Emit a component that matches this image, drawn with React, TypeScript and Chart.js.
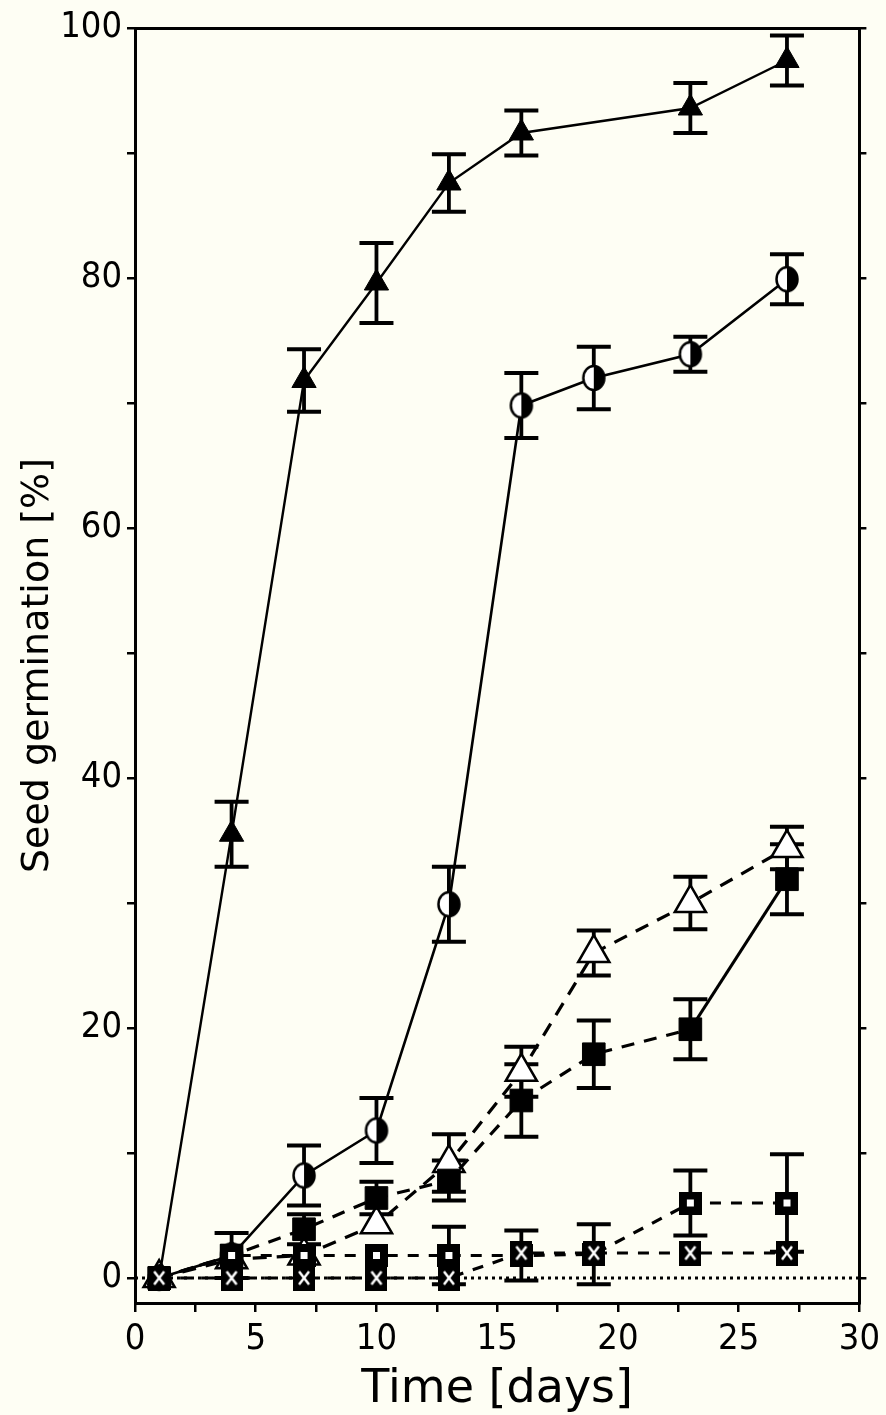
import React, { useEffect, useRef } from 'react';
import { Chart, registerables } from 'chart.js';

Chart.register(...registerables);

// ---- Data ----
const days = [1, 4, 7, 10, 13, 16, 19, 23, 27];

const filledTriangle = [0, 35.5, 71.8, 79.6, 87.6, 91.6, null, 93.6, 97.4];
const filledTriangleErr = [0, 2.6, 2.5, 3.2, 2.3, 1.8, null, 2.0, 2.0];

const halfCircle = [0, 1.8, 8.2, 11.8, 29.9, 69.8, 72.0, 73.9, 79.9];
const halfCircleErr = [0, 1.8, 2.4, 2.6, 3.0, 2.6, 2.5, 1.4, 2.0];

const openTriangle = [0, 1.5, 1.8, 4.3, 9.2, 16.5, 26.0, 30.0, 34.4];
const openTriangleErr = [0, 0, 0, 0, 2.3, 2.0, 1.8, 2.1, 1.7];

const filledSquare = [0, 1.8, 3.9, 6.4, 7.8, 14.2, 17.9, 19.9, 31.9];
const filledSquareErr = [0, 0, 1.2, 1.3, 1.6, 2.9, 2.7, 2.4, 2.8];

const openSquare = [0, 1.8, 1.8, 1.8, 1.8, 1.8, 1.9, 6.0, 6.0];
const openSquareErr = [0, 0, 0, 0, 2.3, 2.0, 2.4, 2.6, 3.9];

const crossedSquare = [0, 0, 0, 0, 0, 2.0, 2.0, 2.0, 2.0];

const yLabelValues = [0, 20, 40, 60, 80, 100];
const xLabelValues = [0, 5, 10, 15, 20, 25, 30];
const zeroLine = [0, 30];

const BG = '#fefef4';
const TICK_FONT = '"DejaVu Sans Condensed", "DejaVu Sans", sans-serif';
const TITLE_FONT = '"DejaVu Sans", sans-serif';

function points(vals: (number | null)[], errs: (number | null)[] | null) {
  const out: any[] = [];
  vals.forEach((v, i) => {
    if (v === null || v === undefined) return;
    out.push({ x: days[i], y: v, e: errs ? errs[i] : 0 });
  });
  return out;
}

function makeCanvas(w: number, h: number, draw: (c: CanvasRenderingContext2D) => void) {
  const c = document.createElement('canvas');
  c.width = w;
  c.height = h;
  const ctx = c.getContext('2d')!;
  draw(ctx);
  return c;
}

function halfCircleMarker() {
  return makeCanvas(26, 28, (ctx) => {
    const cx = 13, cy = 14, r = 10.5;
    ctx.beginPath();
    ctx.ellipse(cx, cy, r, r + 1.5, 0, 0, Math.PI * 2);
    ctx.fillStyle = '#fff';
    ctx.fill();
    ctx.beginPath();
    ctx.ellipse(cx, cy, r, r + 1.5, 0, -Math.PI / 2, Math.PI / 2);
    ctx.closePath();
    ctx.fillStyle = '#000';
    ctx.fill();
    ctx.beginPath();
    ctx.ellipse(cx, cy, r, r + 1.5, 0, 0, Math.PI * 2);
    ctx.lineWidth = 2.5;
    ctx.strokeStyle = '#000';
    ctx.stroke();
  });
}

function openSquareMarker() {
  return makeCanvas(23, 23, (ctx) => {
    ctx.fillStyle = '#000';
    ctx.fillRect(0, 0, 23, 23);
    ctx.fillStyle = '#fff';
    ctx.fillRect(8, 8, 7, 7);
  });
}

function crossedSquareMarker() {
  return makeCanvas(22, 25, (ctx) => {
    ctx.fillStyle = '#000';
    ctx.fillRect(0, 0, 22, 25);
    ctx.strokeStyle = '#fff';
    ctx.lineWidth = 2.5;
    ctx.beginPath();
    ctx.moveTo(6, 6);
    ctx.lineTo(16, 19);
    ctx.moveTo(16, 6);
    ctx.lineTo(6, 19);
    ctx.stroke();
  });
}

const bgPlugin = {
  id: 'bg',
  beforeDraw(chart: any) {
    const { ctx, width, height } = chart;
    ctx.save();
    ctx.fillStyle = BG;
    ctx.fillRect(0, 0, width, height);
    ctx.restore();
  },
};

const errorBarPlugin = {
  id: 'errorBars',
  beforeDatasetsDraw(chart: any) {
    const { ctx } = chart;
    const xs = chart.scales.x;
    const ys = chart.scales.y;
    ctx.save();
    ctx.strokeStyle = '#000';
    ctx.lineWidth = 3.8;
    ctx.lineCap = 'butt';
    chart.data.datasets.forEach((ds: any) => {
      ds.data.forEach((p: any) => {
        if (!p.e) return;
        const px = xs.getPixelForValue(p.x);
        const top = ys.getPixelForValue(p.y + p.e);
        const bot = ys.getPixelForValue(p.y - p.e);
        ctx.beginPath();
        ctx.moveTo(px, top);
        ctx.lineTo(px, bot);
        ctx.moveTo(px - 17, top);
        ctx.lineTo(px + 17, top);
        ctx.moveTo(px - 17, bot);
        ctx.lineTo(px + 17, bot);
        ctx.stroke();
      });
    });
    ctx.restore();
  },
};

export default function App() {
  const ref = useRef<HTMLCanvasElement | null>(null);

  useEffect(() => {
    document.body.style.margin = '0';
    document.body.style.background = BG;
    document.body.style.overflow = 'hidden';
    const canvas = ref.current!;

    const chart = new Chart(canvas, {
      type: 'line',
      data: {
        datasets: [
          {
            label: 'filledTriangle',
            order: 5,
            data: points(filledTriangle, filledTriangleErr),
            borderColor: '#000',
            borderWidth: 2.4,
            pointStyle: 'triangle',
            pointRadius: 14,
            pointBackgroundColor: '#000',
            pointBorderColor: '#000',
            pointBorderWidth: 1,
          },
          {
            label: 'halfCircle',
            order: 4,
            data: points(halfCircle, halfCircleErr),
            borderColor: '#000',
            borderWidth: 2.6,
            pointStyle: halfCircleMarker(),
          },
          {
            label: 'openTriangle',
            order: 6,
            data: points(openTriangle, openTriangleErr),
            borderColor: '#000',
            borderWidth: 3.2,
            borderDash: [14, 10],
            pointStyle: 'triangle',
            pointRadius: 18,
            pointBackgroundColor: '#fff',
            pointBorderColor: '#000',
            pointBorderWidth: 2.5,
          },
          {
            label: 'filledSquare',
            order: 3,
            data: points(filledSquare, filledSquareErr),
            borderColor: '#000',
            borderWidth: 3.2,
            borderDash: [13, 10],
            segment: {
              borderDash: (c: any) => (c.p0DataIndex === 7 ? [] : [13, 10]),
            },
            pointStyle: 'rect',
            pointRadius: 16,
            pointBackgroundColor: '#000',
            pointBorderColor: '#000',
            pointBorderWidth: 1,
          },
          {
            label: 'openSquare',
            order: 2,
            data: points(openSquare, openSquareErr),
            borderColor: '#000',
            borderWidth: 3.2,
            borderDash: [11, 10],
            pointStyle: openSquareMarker(),
          },
          {
            label: 'crossedSquare',
            order: 1,
            data: points(crossedSquare, null),
            borderColor: '#000',
            borderWidth: 3.2,
            borderDash: [11, 10],
            pointStyle: crossedSquareMarker(),
          },
          {
            label: 'zero',
            order: 7,
            data: zeroLine.map((x) => ({ x, y: 0, e: 0 })),
            borderColor: '#000',
            borderWidth: 3,
            borderDash: [3, 4],
            pointRadius: 0,
          },
        ],
      },
      options: {
        responsive: false,
        animation: false,
        events: [],
        layout: { padding: 0 },
        plugins: {
          legend: { display: false },
          tooltip: { enabled: false },
        },
        elements: {
          line: { tension: 0 },
        },
        datasets: {
          line: { clip: false as any, spanGaps: true },
        },
        scales: {
          x: {
            type: 'linear',
            position: 'bottom',
            min: 0,
            max: 30,
            ticks: {
              stepSize: 2.5,
              autoSkip: false,
              maxRotation: 0,
              color: '#000',
              padding: 6,
              font: { family: TICK_FONT, size: 36 },
              callback: (v: any) => (xLabelValues.includes(Number(v)) ? String(v) : ''),
            },
            grid: {
              drawOnChartArea: false,
              drawTicks: true,
              tickLength: 9,
              color: '#000',
              lineWidth: 2.5,
            },
            border: { display: true, color: '#000', width: 3 },
            title: {
              display: true,
              text: 'Time [days]',
              color: '#000',
              font: { family: TITLE_FONT, size: 46, lineHeight: 1.1 },
              padding: { top: 0, bottom: 0 },
            },
            afterFit: (s: any) => {
              s.height = 112;
            },
          },
          x2: {
            type: 'linear',
            position: 'top',
            min: 0,
            max: 30,
            ticks: { display: false },
            grid: { display: false },
            border: { display: true, color: '#000', width: 3 },
            afterFit: (s: any) => {
              s.height = 28;
            },
          },
          y: {
            type: 'linear',
            position: 'left',
            min: -2,
            max: 100,
            ticks: {
              stepSize: 10,
              includeBounds: false,
              autoSkip: false,
              color: '#000',
              padding: 5,
              font: { family: TICK_FONT, size: 36 },
              callback: (v: any) => (yLabelValues.includes(Number(v)) ? String(v) : ''),
            },
            grid: {
              drawOnChartArea: false,
              drawTicks: true,
              tickLength: 8,
              color: '#000',
              lineWidth: 2.5,
            },
            border: { display: true, color: '#000', width: 3 },
            title: {
              display: true,
              text: 'Seed germination [%]',
              color: '#000',
              font: { family: TITLE_FONT, size: 38 },
              padding: { top: 15, bottom: 15 },
            },
            afterFit: (s: any) => {
              s.width = 135;
            },
          },
          y2: {
            type: 'linear',
            position: 'right',
            min: -2,
            max: 100,
            ticks: { display: false, stepSize: 10, includeBounds: false },
            grid: {
              drawOnChartArea: false,
              drawTicks: true,
              tickLength: 7,
              color: '#000',
              lineWidth: 2.5,
            },
            border: { display: true, color: '#000', width: 3 },
            afterFit: (s: any) => {
              s.width = 26;
            },
          },
        },
      } as any,
      plugins: [bgPlugin, errorBarPlugin],
    });

    return () => chart.destroy();
  }, []);

  return (
    <div style={{ width: 886, height: 1415, background: BG }}>
      <canvas ref={ref} width={886} height={1415} style={{ display: 'block' }} />
    </div>
  );
}
